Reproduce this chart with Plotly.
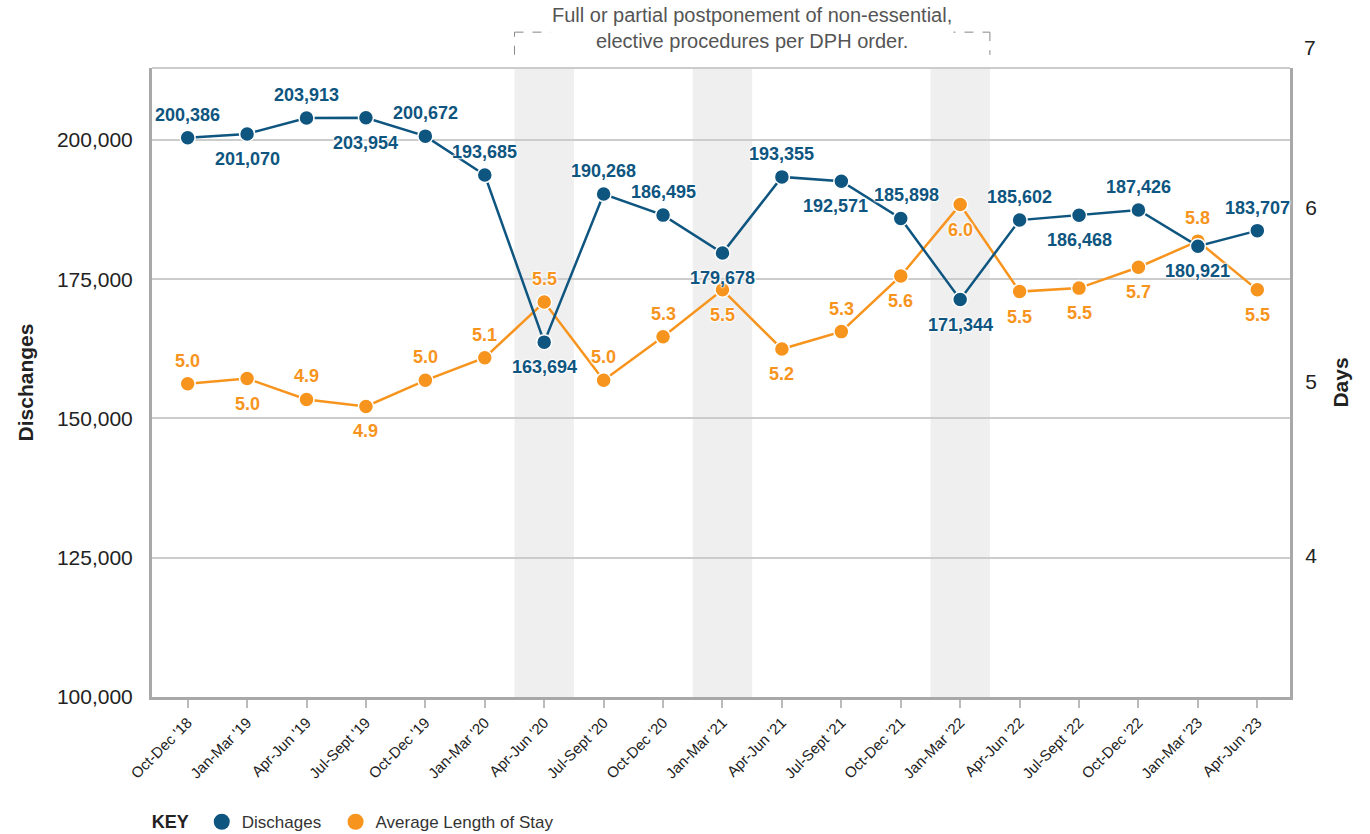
import plotly.graph_objects as go

# Quarter labels
quarters = [
    "Oct-Dec '18", "Jan-Mar '19", "Apr-Jun '19", "Jul-Sept '19", "Oct-Dec '19",
    "Jan-Mar '20", "Apr-Jun '20", "Jul-Sept '20", "Oct-Dec '20", "Jan-Mar '21",
    "Apr-Jun '21", "Jul-Sept '21", "Oct-Dec '21", "Jan-Mar '22", "Apr-Jun '22",
    "Jul-Sept '22", "Oct-Dec '22", "Jan-Mar '23", "Apr-Jun '23",
]

# Hospital discharges per quarter
discharges = [
    200386, 201070, 203913, 203954, 200672, 193685, 163694, 190268, 186495,
    179678, 193355, 192571, 185898, 171344, 185602, 186468, 187426, 180921, 183707,
]

# Average length of stay (days)
alos = [
    4.99, 5.02, 4.90, 4.86, 5.01, 5.14, 5.46, 5.01, 5.26, 5.53,
    5.19, 5.29, 5.61, 6.02, 5.52, 5.54, 5.66, 5.81, 5.53,
]

# Which side of its point each value label sits on
discharge_label_side = [
    "above", "below", "above", "below", "above", "above", "below", "above", "above",
    "below", "above", "below", "above", "below", "above", "below", "above", "below", "above",
]
alos_label_side = [
    "above", "below", "above", "below", "above", "above", "above", "above", "above",
    "below", "below", "above", "below", "below", "below", "below", "below", "above", "below",
]

# Small sideways nudges for labels that would otherwise crowd each other (px)
discharge_label_nudge = {"Jul-Sept '21": -6, "Oct-Dec '21": 6}

# Quarters with postponed elective procedures
postponed_quarters = ["Apr-Jun '20", "Jan-Mar '21", "Jan-Mar '22"]

BLUE = "#0e5580"
ORANGE = "#f7941d"
FONT = "Liberation Sans, Arial, sans-serif"
HALO = "white 0px 0px 3px, white 0px 0px 3px, white 0px 0px 2px, white 0px 0px 2px"
NBSP = "\u00a0"

fig = go.Figure()

fig.add_trace(go.Scatter(
    x=quarters, y=alos, name="Average Length of Stay", yaxis="y",
    mode="lines+markers",
    line=dict(color=ORANGE, width=2.5),
    marker=dict(color=ORANGE, size=15, line=dict(color="white", width=1.5)),
    cliponaxis=False, showlegend=False,
))

fig.add_trace(go.Scatter(
    x=quarters, y=discharges, name="Dischages", yaxis="y2",
    mode="lines+markers",
    line=dict(color=BLUE, width=2.5),
    marker=dict(color=BLUE, size=15, line=dict(color="white", width=1.5)),
    cliponaxis=False, showlegend=False,
))

# Legend entries (marker only)
fig.add_trace(go.Scatter(x=[None], y=[None], mode="markers", name="Dischages" + NBSP * 2,
                         marker=dict(color=BLUE, size=16), legendrank=1))
fig.add_trace(go.Scatter(x=[None], y=[None], mode="markers", name="Average Length of Stay",
                         marker=dict(color=ORANGE, size=16), legendrank=2))

annotations = []


def add_labels(values, sides, yref, color, fmt, nudge=None):
    nudge = nudge or {}
    for q, v, side in zip(quarters, values, sides):
        annotations.append(dict(
            x=q, y=v, xref="x", yref=yref, text=fmt(v), showarrow=False,
            yanchor="middle", yshift=23 if side == "above" else -25,
            xshift=nudge.get(q, 0),
            font=dict(family=FONT, size=18, color=color, weight="bold", shadow=HALO),
        ))


add_labels(alos, alos_label_side, "y", ORANGE, lambda v: f"{v:.1f}")
add_labels(discharges, discharge_label_side, "y2", BLUE, lambda v: f"{v:,}",
           discharge_label_nudge)

shapes = []
for q in postponed_quarters:
    i = quarters.index(q)
    shapes.append(dict(
        type="rect", xref="x", yref="paper", x0=i - 0.5, x1=i + 0.5, y0=0, y1=1,
        fillcolor="#efefef", line=dict(width=0), layer="below",
    ))

# Top border of the plot area
shapes.append(dict(type="line", xref="paper", yref="paper", x0=0, x1=1, y0=1, y1=1,
                   line=dict(color="#cccccc", width=2)))

# Dashed bracket spanning the postponement period
first = quarters.index(postponed_quarters[0]) - 0.5
last = quarters.index(postponed_quarters[-1]) + 0.5
bracket = dict(color="#888888", width=1, dash="dash")
for seg in [
    (first, 1.021, first, 1.057),
    (first, 1.057, last, 1.057),
    (last, 1.057, last, 1.021),
]:
    shapes.append(dict(type="line", xref="x", yref="paper", x0=seg[0], y0=seg[1],
                       x1=seg[2], y1=seg[3], line=bracket))

annotations += [
    dict(
        text="Full or partial postponement of non-essential,<br>elective procedures per DPH order.",
        xref="x", yref="paper", x=(first + last) / 2, y=1.063, yanchor="middle",
        showarrow=False, bgcolor="white", borderpad=1,
        font=dict(family=FONT, size=20, color="#555555"),
    ),
    dict(
        text="7", xref="paper", yref="paper", x=1, xshift=12, xanchor="left",
        y=1.032, yanchor="middle", showarrow=False,
        font=dict(family=FONT, size=21, color="#222222"),
    ),
]

fig.update_layout(
    width=1370, height=834,
    margin=dict(l=152, r=80, t=68, b=137, autoexpand=False),
    paper_bgcolor="white", plot_bgcolor="white",
    font=dict(family=FONT, color="#222222"),
    showlegend=True,
    legend=dict(
        orientation="h", x=-0.002, xanchor="left", y=-0.199, yanchor="middle",
        title=dict(text="<b>KEY</b> ", font=dict(family=FONT, size=18, color="#222222")),
        font=dict(family=FONT, size=17, color="#333333"),
        itemwidth=30,
    ),
    xaxis=dict(
        type="category", range=[-0.6, 18.55], automargin=False,
        showline=True, linecolor="#a8a8a8", linewidth=3,
        ticks="outside", ticklen=8, tickwidth=1.5, tickcolor="#bbbbbb",
        tickangle=-45, tickfont=dict(family=FONT, size=15, color="#222222"),
        showgrid=False, zeroline=False,
    ),
    yaxis=dict(
        side="right", range=[3.19, 6.805], tickvals=[4, 5, 6],
        showgrid=False, zeroline=False, automargin=False,
        showline=True, linecolor="#a8a8a8", linewidth=3,
        ticks="", ticklabelstandoff=8,
        tickfont=dict(family=FONT, size=21, color="#222222"),
        title=dict(text="<b>Days</b>", standoff=18,
                   font=dict(family=FONT, size=21, color="#222222")),
    ),
    yaxis2=dict(
        side="left", overlaying="y", range=[100000, 212900], automargin=False,
        tickvals=[100000, 125000, 150000, 175000, 200000], tickformat=",",
        showgrid=True, gridcolor="#cccccc", gridwidth=2, zeroline=False,
        showline=True, linecolor="#a8a8a8", linewidth=3,
        ticks="", ticklabelstandoff=12,
        tickfont=dict(family=FONT, size=21, color="#222222"),
        title=dict(text="<b>Dischanges</b>", standoff=18,
                   font=dict(family=FONT, size=21, color="#222222")),
    ),
    shapes=shapes,
    annotations=annotations,
)

fig.write_html("out.html")
